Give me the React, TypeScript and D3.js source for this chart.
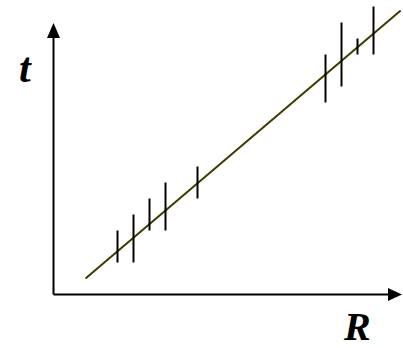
import * as d3 from 'd3'

// measurements: R position and t error range (lo, hi)
const rValues = [4, 5, 6, 7, 9, 17, 18, 19, 20]
const tLow = [2, 2, 4, 4, 6, 12, 13, 15, 15]
const tHigh = [4, 5, 6, 7, 8, 15, 17, 16, 18]

// fitted line end points
const fitR = [2, 21.7]
const fitT = [1, 17.75]

const xLabel = 'R'
const yLabel = 't'

const W = 403
const H = 348

const App = () => {
  const x = d3.scaleLinear().domain([0, 21.875]).range([53.5, 403.5])
  const y = d3.scaleLinear().domain([0, 17]).range([294.5, 22.5])

  const data = rValues.map((r, i) => ({ r, lo: tLow[i], hi: tHigh[i] }))
  const fit = fitR.map((r, i) => [r, fitT[i]] as [number, number])

  const line = d3.line<[number, number]>()
    .x((d) => x(d[0]))
    .y((d) => y(d[1]))

  const ox = x(0)
  const oy = y(0)
  const xEnd = W - 1
  const yTop = 23

  return (
    <svg width={W} height={H} style={{ position: 'absolute', left: 0, top: 0, background: '#fff' }}>
      {/* axes */}
      <line x1={ox} y1={oy} x2={xEnd - 12} y2={oy} stroke="#000" strokeWidth={2} />
      <line x1={ox} y1={oy} x2={ox} y2={yTop + 12} stroke="#000" strokeWidth={2} />
      <path d={`M${xEnd},${oy} L${xEnd - 14},${oy - 6.5} L${xEnd - 14},${oy + 6.5} Z`} fill="#000" />
      <path d={`M${ox},${yTop} L${ox - 6.5},${yTop + 15} L${ox + 6.5},${yTop + 15} Z`} fill="#000" />

      {/* fit line */}
      <path d={line(fit) ?? ''} fill="none" stroke="#3d3a00" strokeWidth={2} />

      {/* error bars */}
      {data.map((d, i) => (
        <line key={i} x1={x(d.r)} x2={x(d.r)} y1={y(d.lo)} y2={y(d.hi)} stroke="#000" strokeWidth={2} />
      ))}

      {/* labels */}
      <text x={19} y={82} fontFamily="'Liberation Serif', serif" fontStyle="italic" fontWeight="bold" fontSize={42}>{yLabel}</text>
      <text x={344} y={340} fontFamily="'Liberation Serif', serif" fontStyle="italic" fontWeight="bold" fontSize={40}>{xLabel}</text>
    </svg>
  )
}

export default App
